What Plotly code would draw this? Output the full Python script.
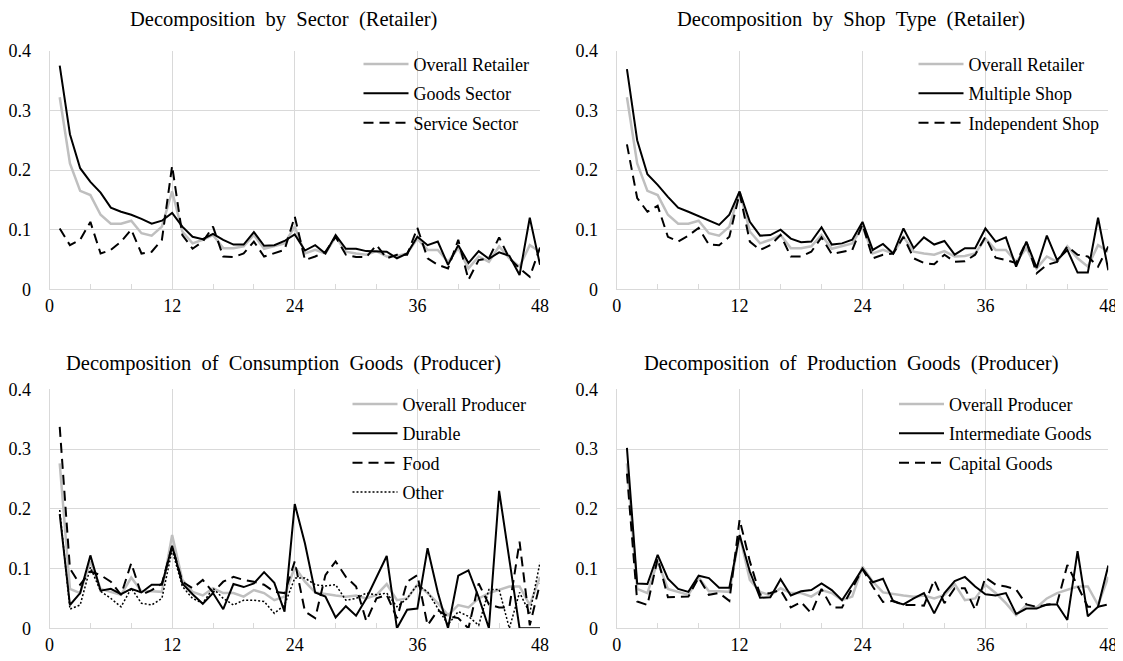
import plotly.graph_objects as go

months = list(range(1, 49))

overall_retailer = [0.322, 0.211, 0.165, 0.158, 0.125, 0.110, 0.110, 0.115, 0.094, 0.090,
                    0.105, 0.164, 0.097, 0.077, 0.083, 0.091, 0.069, 0.069, 0.072, 0.091,
                    0.068, 0.072, 0.077, 0.105, 0.060, 0.066, 0.060, 0.088, 0.063, 0.060,
                    0.058, 0.064, 0.055, 0.056, 0.060, 0.085, 0.066, 0.066, 0.046, 0.069,
                    0.035, 0.055, 0.046, 0.072, 0.052, 0.038, 0.074, 0.063]
goods_sector = [0.375, 0.260, 0.203, 0.180, 0.162, 0.137, 0.130, 0.125, 0.118, 0.110,
                0.115, 0.128, 0.105, 0.088, 0.084, 0.093, 0.083, 0.075, 0.075, 0.096,
                0.073, 0.074, 0.081, 0.092, 0.065, 0.074, 0.060, 0.091, 0.068, 0.068,
                0.064, 0.063, 0.063, 0.052, 0.060, 0.088, 0.074, 0.080, 0.041, 0.074,
                0.044, 0.064, 0.051, 0.062, 0.056, 0.024, 0.120, 0.041]
service_sector = [0.102, 0.074, 0.083, 0.113, 0.060, 0.066, 0.080, 0.100, 0.060, 0.063,
                  0.083, 0.207, 0.091, 0.068, 0.080, 0.105, 0.055, 0.054, 0.060, 0.080,
                  0.055, 0.060, 0.066, 0.122, 0.049, 0.055, 0.063, 0.088, 0.058, 0.054,
                  0.054, 0.074, 0.052, 0.058, 0.058, 0.103, 0.052, 0.041, 0.035, 0.083,
                  0.016, 0.049, 0.052, 0.087, 0.052, 0.035, 0.021, 0.070]

multiple_shop = [0.369, 0.250, 0.193, 0.175, 0.155, 0.137, 0.130, 0.123, 0.116, 0.108,
                 0.125, 0.164, 0.113, 0.090, 0.091, 0.100, 0.085, 0.079, 0.080, 0.104,
                 0.075, 0.077, 0.083, 0.113, 0.066, 0.076, 0.060, 0.102, 0.069, 0.087,
                 0.075, 0.081, 0.058, 0.069, 0.069, 0.102, 0.080, 0.087, 0.038, 0.080,
                 0.036, 0.090, 0.049, 0.066, 0.028, 0.028, 0.120, 0.032]
independent_shop = [0.243, 0.153, 0.130, 0.140, 0.088, 0.080, 0.090, 0.103, 0.075, 0.074,
                    0.088, 0.161, 0.080, 0.066, 0.074, 0.091, 0.055, 0.055, 0.063, 0.087,
                    0.059, 0.063, 0.066, 0.109, 0.052, 0.058, 0.060, 0.088, 0.052, 0.044,
                    0.042, 0.058, 0.046, 0.047, 0.058, 0.088, 0.053, 0.049, 0.044, 0.080,
                    0.027, 0.041, 0.046, 0.072, 0.058, 0.055, 0.038, 0.072]

overall_producer = [0.276, 0.066, 0.059, 0.112, 0.066, 0.061, 0.056, 0.085, 0.062, 0.062,
                    0.061, 0.156, 0.081, 0.061, 0.055, 0.067, 0.059, 0.059, 0.053, 0.064,
                    0.059, 0.047, 0.053, 0.103, 0.078, 0.060, 0.057, 0.055, 0.053, 0.055,
                    0.050, 0.056, 0.074, 0.047, 0.050, 0.073, 0.059, 0.042, 0.022, 0.039,
                    0.035, 0.050, 0.059, 0.064, 0.070, 0.070, 0.039, 0.086]
durable = [0.191, 0.039, 0.059, 0.122, 0.063, 0.066, 0.057, 0.066, 0.060, 0.073,
           0.073, 0.138, 0.075, 0.057, 0.041, 0.059, 0.032, 0.074, 0.069, 0.075,
           0.094, 0.076, 0.028, 0.208, 0.142, 0.060, 0.053, 0.018, 0.037, 0.021,
           0.050, 0.085, 0.121, 0.000, 0.031, 0.033, 0.134, 0.060, 0.000, 0.088,
           0.097, 0.052, 0.000, 0.230, 0.115, 0.000, 0.000, 0.000]
food = [0.337, 0.100, 0.073, 0.095, 0.089, 0.078, 0.056, 0.109, 0.056, 0.064,
        0.075, 0.137, 0.078, 0.067, 0.081, 0.060, 0.078, 0.086, 0.081, 0.078,
        0.073, 0.061, 0.059, 0.112, 0.028, 0.017, 0.089, 0.112, 0.086, 0.070,
        0.012, 0.050, 0.056, 0.017, 0.078, 0.089, 0.005, 0.030, 0.020, 0.017,
        0.000, 0.075, 0.040, 0.035, 0.035, 0.145, 0.005, 0.075]
other = [0.198, 0.032, 0.039, 0.102, 0.062, 0.050, 0.036, 0.067, 0.042, 0.039,
         0.050, 0.131, 0.070, 0.050, 0.042, 0.067, 0.050, 0.039, 0.047, 0.047,
         0.045, 0.025, 0.039, 0.084, 0.084, 0.073, 0.071, 0.073, 0.047, 0.050,
         0.059, 0.056, 0.059, 0.036, 0.050, 0.073, 0.061, 0.033, 0.006, 0.028,
         0.020, 0.005, 0.065, 0.065, 0.000, 0.060, 0.025, 0.110]

intermediate_goods = [0.302, 0.075, 0.074, 0.123, 0.083, 0.066, 0.061, 0.088, 0.084, 0.068,
                      0.068, 0.156, 0.095, 0.051, 0.052, 0.082, 0.055, 0.062, 0.064, 0.075,
                      0.064, 0.047, 0.073, 0.100, 0.077, 0.083, 0.045, 0.040, 0.050, 0.059,
                      0.025, 0.059, 0.079, 0.086, 0.070, 0.057, 0.055, 0.059, 0.024, 0.033,
                      0.033, 0.040, 0.040, 0.014, 0.129, 0.020, 0.036, 0.105]
capital_goods = [0.259, 0.045, 0.039, 0.117, 0.052, 0.052, 0.053, 0.085, 0.056, 0.059,
                 0.046, 0.182, 0.112, 0.056, 0.059, 0.064, 0.035, 0.044, 0.025, 0.066,
                 0.035, 0.035, 0.066, 0.099, 0.070, 0.044, 0.046, 0.039, 0.039, 0.038,
                 0.081, 0.042, 0.067, 0.067, 0.031, 0.085, 0.073, 0.070, 0.065, 0.040,
                 0.036, 0.039, 0.042, 0.106, 0.070, 0.036, 0.036, 0.040]

titles = ["Decomposition by Sector (Retailer)",
          "Decomposition by Shop Type (Retailer)",
          "Decomposition of Consumption Goods (Producer)",
          "Decomposition of Production Goods (Producer)"]

PAGE_W, PAGE_H = 1123, 661
OFF = 8  # default page margin around the plot div
W, H = PAGE_W - OFF, PAGE_H - OFF
FONT = "Liberation Serif"
GREY = "#bfbfbf"
BLACK = "#000000"
GRID = "#d9d9d9"
GAP = "\u00a0" * 2  # slightly wide word spacing as in the original titles


def fx(px):
    return (px - OFF) / W


def fy(py):
    return 1 - (py - OFF) / H


# page-pixel geometry of each plot area: (left, right, top, bottom)
boxes = [(49.5, 540.0, 50.7, 289.3), (616.7, 1108.3, 50.7, 289.3),
         (49.5, 540.0, 389.3, 628.3), (616.7, 1108.3, 389.3, 628.3)]

panels = [
    [("Overall Retailer", overall_retailer, GREY, "solid", 2.5),
     ("Goods Sector", goods_sector, BLACK, "solid", 2),
     ("Service Sector", service_sector, BLACK, "10px,6px", 2)],
    [("Overall Retailer", overall_retailer, GREY, "solid", 2.5),
     ("Multiple Shop", multiple_shop, BLACK, "solid", 2),
     ("Independent Shop", independent_shop, BLACK, "10px,6px", 2)],
    [("Overall Producer", overall_producer, GREY, "solid", 2.5),
     ("Durable", durable, BLACK, "solid", 2),
     ("Food", food, BLACK, "10px,6px", 2),
     ("Other", other, BLACK, "2px,2px", 1.5)],
    [("Overall Producer", overall_producer, GREY, "solid", 2.5),
     ("Intermediate Goods", intermediate_goods, BLACK, "solid", 2),
     ("Capital Goods", capital_goods, BLACK, "10px,6px", 2)],
]
legend_left_px = [358.5, 913.5, 347.5, 894.0]
legend_top_px = [45.7, 45.7, 385.7, 385.7]
title_center_px = [(283, 20), (851, 20), (283, 363), (851, 363)]

fig = go.Figure()
layout = dict(width=W, height=H,
              margin=dict(l=0, r=0, t=0, b=0, autoexpand=False),
              paper_bgcolor="white", plot_bgcolor="white",
              font=dict(family=FONT, size=18, color="#000000"),
              showlegend=True, annotations=[])

for i, (series, box) in enumerate(zip(panels, boxes)):
    n = i + 1
    xa = "x" if n == 1 else f"x{n}"
    ya = "y" if n == 1 else f"y{n}"
    lg = "legend" if n == 1 else f"legend{n}"
    for j, (name, vals, col, dash, w) in enumerate(series):
        fig.add_trace(go.Scatter(x=months, y=vals, name=name, mode="lines",
                                 line=dict(color=col, width=w, dash=dash),
                                 xaxis=xa, yaxis=ya, legend=lg,
                                 legendgroup=f"p{n}s{j}"))
    l, r, t, b = box
    xd = [fx(l), fx(r)]
    yd = [fy(b), fy(t)]
    xkey = "xaxis" if n == 1 else f"xaxis{n}"
    ykey = "yaxis" if n == 1 else f"yaxis{n}"
    layout[xkey] = dict(domain=xd, anchor=ya, range=[0, 48], tick0=0, dtick=12,
                        showgrid=True, gridcolor=GRID, gridwidth=1,
                        showline=True, linecolor=GRID, linewidth=1, mirror=False,
                        zeroline=False, ticks="", automargin=False,
                        tickfont=dict(family=FONT, size=18),
                        minor=dict(dtick=4, tick0=0, ticks="inside", ticklen=5,
                                   tickcolor=GRID, showgrid=False))
    layout[ykey] = dict(domain=yd, anchor=xa, range=[0, 0.4], tick0=0, dtick=0.1,
                        showgrid=True, gridcolor=GRID, gridwidth=1,
                        showline=True, linecolor=GRID, linewidth=1,
                        zeroline=False, ticks="", automargin=False,
                        tickfont=dict(family=FONT, size=18),
                        ticklabelstandoff=14)
    layout[lg] = dict(x=fx(legend_left_px[i]), xanchor="left",
                      y=fy(legend_top_px[i]), yanchor="top",
                      bgcolor="rgba(0,0,0,0)", borderwidth=0,
                      font=dict(family=FONT, size=18),
                      itemwidth=45, tracegroupgap=3)
    cx, cy = title_center_px[i]
    layout["annotations"].append(dict(text=titles[i].replace(" ", GAP),
                                      x=fx(cx), y=fy(cy),
                                      xref="paper", yref="paper", showarrow=False,
                                      xanchor="center", yanchor="middle",
                                      font=dict(family=FONT, size=20.5)))

fig.update_layout(**layout)
fig.write_html("out.html")
